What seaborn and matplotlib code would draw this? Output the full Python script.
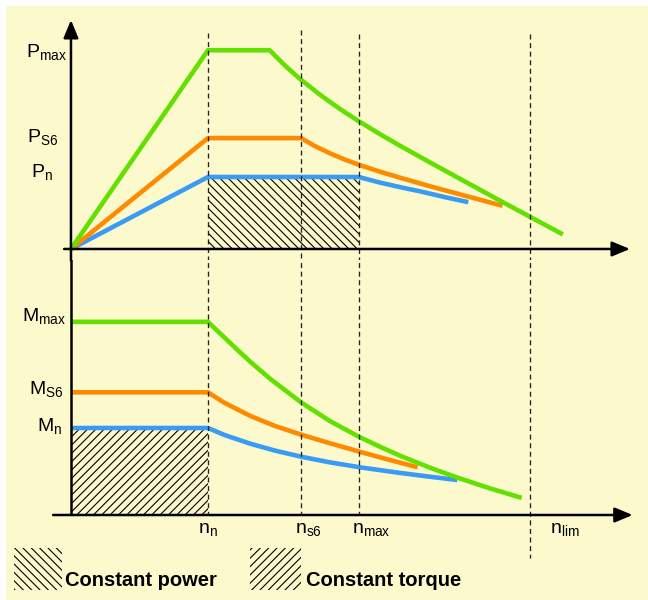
import matplotlib
matplotlib.use("Agg")
import matplotlib.pyplot as plt
import pandas as pd
import seaborn as sns
from matplotlib.patches import Rectangle

# ---------------- data (speed n in units of n_n) ----------------
speed_ticks = [1.0, 1.68, 2.10, 3.35]
speed_labels = [r"n$_\mathrm{n}$", r"n$_\mathrm{s6}$", r"n$_\mathrm{max}$", r"n$_\mathrm{lim}$"]

power_levels = [2.76, 1.54, 1.0]
power_labels = [r"P$_\mathrm{max}$", r"P$_\mathrm{S6}$", r"P$_\mathrm{n}$"]
torque_levels = [2.22, 1.41, 1.0]
torque_labels = [r"M$_\mathrm{max}$", r"M$_\mathrm{S6}$", r"M$_\mathrm{n}$"]

# power curves
pmax_n = [0.0, 1.0, 1.45, 1.56, 1.67, 1.82, 1.96, 2.11, 2.26, 2.40, 2.62, 2.84, 3.13, 3.35, 3.59]
pmax_v = [0.0, 2.76, 2.76, 2.551, 2.364, 2.139, 1.949, 1.763, 1.590, 1.436, 1.203, 0.974, 0.673, 0.448, 0.203]
ps6_n = [0.0, 1.0, 1.68, 1.78, 1.89, 2.00, 2.11, 2.26, 2.40, 2.62, 2.84, 3.15]
ps6_v = [0.0, 1.54, 1.54, 1.43, 1.329, 1.241, 1.164, 1.071, 0.991, 0.872, 0.758, 0.600]
pn_n = [0.0, 1.0, 2.10, 2.18, 2.26, 2.40, 2.55, 2.73, 2.90]
pn_v = [0.0, 1.0, 1.0, 0.96, 0.92, 0.86, 0.80, 0.72, 0.65]

# torque curves
mmax_n = [0.0, 1.0, 1.09, 1.20, 1.31, 1.45, 1.68, 1.89, 2.11, 2.26, 2.40, 2.62, 2.82, 3.06, 3.29]
mmax_v = [2.22, 2.22, 2.085, 1.92, 1.76, 1.57, 1.294, 1.08, 0.893, 0.781, 0.683, 0.544, 0.43, 0.305, 0.197]
ms6_n = [0.0, 1.0, 1.12, 1.31, 1.49, 1.68, 1.89, 2.11, 2.33, 2.53]
ms6_v = [1.41, 1.41, 1.29, 1.138, 1.023, 0.924, 0.825, 0.726, 0.631, 0.549]
mn_n = [0.0, 1.0, 1.12, 1.31, 1.49, 1.68, 1.89, 2.11, 2.40, 2.62, 2.82]
mn_v = [1.0, 1.0, 0.92, 0.819, 0.74, 0.67, 0.605, 0.548, 0.484, 0.44, 0.402]

# hatched regions
const_power_span = [1.0, 2.10]
const_torque_span = [0.0, 1.0]

legend_labels = ["Constant power", "Constant torque"]

# ---------------- style ----------------
sns.set_theme(style="white")
plt.rcParams["font.family"] = ["Liberation Sans", "DejaVu Sans"]
plt.rcParams["mathtext.fontset"] = "custom"
plt.rcParams["mathtext.rm"] = "Liberation Sans"
plt.rcParams["mathtext.it"] = "Liberation Sans:italic"
plt.rcParams["hatch.linewidth"] = 0.8

yellow = "#FCF9CC"
green = "#62E000"
orange = "#FF8A00"
blue = "#3A9BF5"
palette_p = {"P_n": blue, "P_S6": orange, "P_max": green}
palette_m = {"M_n": blue, "M_S6": orange, "M_max": green}


def frame(items):
    rows = []
    for name, ns, vs in items:
        for n, v in zip(ns, vs):
            rows.append((name, n, v))
    return pd.DataFrame(rows, columns=["curve", "n", "value"])


df_p = frame([("P_n", pn_n, pn_v), ("P_S6", ps6_n, ps6_v), ("P_max", pmax_n, pmax_v)])
df_m = frame([("M_n", mn_n, mn_v), ("M_S6", ms6_n, ms6_v), ("M_max", mmax_n, mmax_v)])

fig = plt.figure(figsize=(6.48, 6.0), dpi=100)
fig.patch.set_facecolor("white")
fig.add_artist(Rectangle((6 / 648, 0), 1, 1 - 6 / 600, transform=fig.transFigure,
                         facecolor=yellow, edgecolor="none", zorder=-10))

ax_top = fig.add_axes([0, 1 - 260 / 600, 1, 260 / 600])
ax_bot = fig.add_axes([0, 0, 1, 340 / 600])
for ax in (ax_top, ax_bot):
    ax.set_facecolor("none")
    ax.axis("off")

# hatched regions
ax_top.fill_between(const_power_span, 0, power_levels[2], facecolor="none",
                    edgecolor="black", hatch="\\\\\\\\", linewidth=0, zorder=1)
ax_bot.fill_between(const_torque_span, 0, torque_levels[2], facecolor="none",
                    edgecolor="black", hatch="////", linewidth=0, zorder=1)

# curves
sns.lineplot(data=df_p, x="n", y="value", hue="curve", palette=palette_p,
             hue_order=["P_n", "P_S6", "P_max"], estimator=None, sort=False,
             linewidth=3.3, legend=False, ax=ax_top, solid_capstyle="butt", zorder=3)
sns.lineplot(data=df_m, x="n", y="value", hue="curve", palette=palette_m,
             hue_order=["M_n", "M_S6", "M_max"], estimator=None, sort=False,
             linewidth=3.3, legend=False, ax=ax_bot, solid_capstyle="butt", zorder=3)
for ax in (ax_top, ax_bot):
    ax.set_xlabel("")
    ax.set_ylabel("")
    ax.set_xlim(-0.518, 4.212)
ax_top.set_ylim(-0.153, 3.458)
ax_bot.set_ylim(-0.977, 2.931)

# dashed speed markers
dash = (0, (3.8, 2.7))
dash_tops = [3.0, 3.04, 2.99, 2.98]
bottom_ends = [0, 0, 0, -0.494]
for x, top, bend in zip(speed_ticks, dash_tops, bottom_ends):
    ax_top.plot([x, x], [top, -0.2], color="#222222", lw=0.95, ls=dash, zorder=5)
    ax_bot.plot([x, x], [3.0, bend], color="#222222", lw=0.95, ls=dash, zorder=5)

# axes with arrows
arrow = dict(arrowstyle="-|>,head_length=0.6,head_width=0.25", lw=1.8, color="black",
             mutation_scale=18, shrinkA=0, shrinkB=0)
ax_top.annotate("", xy=(4.08, 0), xytext=(-0.05, 0), arrowprops=arrow, zorder=6)
ax_top.annotate("", xy=(0, 3.18), xytext=(0, -0.16), arrowprops=arrow, zorder=6)
ax_bot.annotate("", xy=(4.10, 0), xytext=(-0.13, 0), arrowprops=arrow, zorder=6)
ax_bot.plot([0, 0], [3.0, 0], color="black", lw=1.8, solid_capstyle="butt", zorder=6)

# level labels
p_offsets = [(-45, -7), (-44, -4), (-40, 0)]
for lab, lev, (dx, dy) in zip(power_labels, power_levels, p_offsets):
    ax_top.annotate(lab, xy=(0, lev), xytext=(dx, dy), textcoords="offset pixels",
                    ha="left", va="baseline", fontsize=14, color="black")
m_offsets = [(-49, 1), (-42, -2), (-34, -3)]
for lab, lev, (dx, dy) in zip(torque_labels, torque_levels, m_offsets):
    ax_bot.annotate(lab, xy=(0, lev), xytext=(dx, dy), textcoords="offset pixels",
                    ha="left", va="baseline", fontsize=14, color="black")
n_offsets = [-10, -6, -7, 20]
for lab, x, dx in zip(speed_labels, speed_ticks, n_offsets):
    ax_bot.annotate(lab, xy=(x, 0), xytext=(dx, -18), textcoords="offset pixels",
                    ha="left", va="baseline", fontsize=14, color="black")

# legend
W, H = 648, 600
boxes = [(14, 62, "\\\\\\\\"), (250, 301, "////")]
text_x = [65, 306]
for (x0, x1, h), tx, lab in zip(boxes, text_x, legend_labels):
    fig.add_artist(Rectangle((x0 / W, 1 - 590 / H), (x1 - x0) / W, 42 / H,
                             transform=fig.transFigure, facecolor="none",
                             edgecolor="black", linewidth=0, hatch=h))
    fig.text(tx / W, 1 - 586 / H, lab, fontsize=14.5, fontweight="bold",
             ha="left", va="baseline", color="black")

fig.savefig("out.png", dpi=100, facecolor=fig.get_facecolor())
